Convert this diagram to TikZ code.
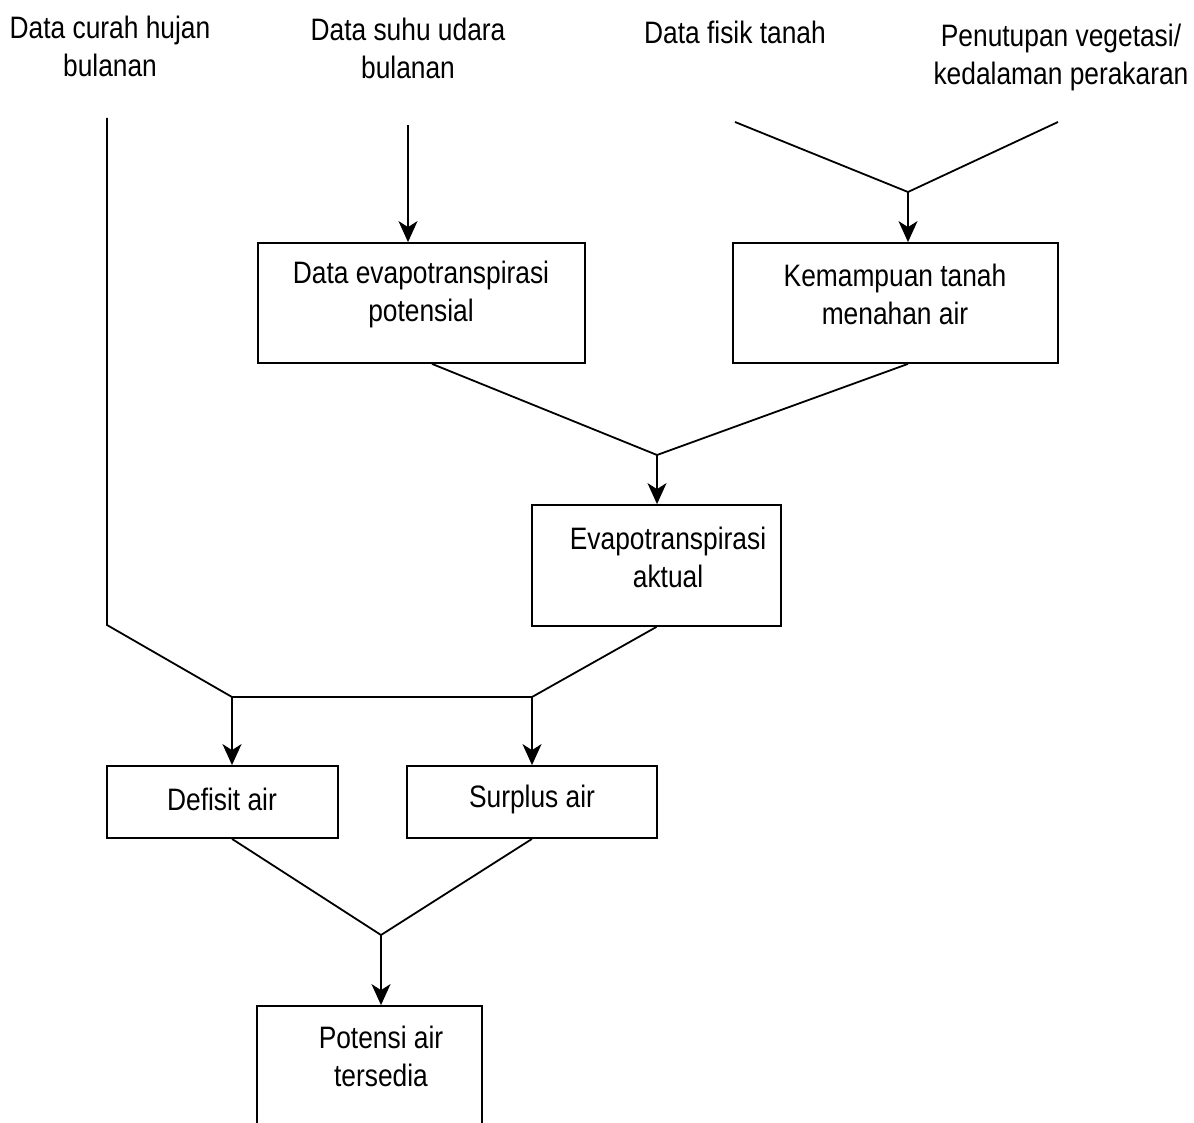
\documentclass[tikz,border=0pt]{standalone}
\usepackage{fontspec}
\setmainfont{Liberation Sans}[FakeStretch=0.85]
\usetikzlibrary{arrows.meta}
\begin{document}
\begin{tikzpicture}[x=1pt,y=-1pt,
  line width=1.8pt,
  txt/.style={font=\fontsize{31}{38}\selectfont, align=center, inner sep=0pt},
  box/.style={draw, line width=1.8pt, inner sep=0pt},
  arr/.style={-{Stealth[length=21pt,width=19pt,inset=6pt]}},
]
\clip (0,0) rectangle (1194,1123);
\fill[white] (0,0) rectangle (1194,1123);

% top labels
\node[txt] (l1) at (110,46) {Data curah hujan\\bulanan};
\node[txt] (l2) at (408,48) {Data suhu udara\\bulanan};
\node[txt] (l3) at (735,32) {Data fisik tanah};
\node[txt] (l4) at (1061,57) {Penutupan vegetasi/\\kedalaman perakaran};

% boxes
\node[box, minimum width=327pt, minimum height=120pt] (b1) at (421.5,303) {};
\node[box, minimum width=325pt, minimum height=120pt] (b2) at (895.5,303) {};
\node[box, minimum width=249pt, minimum height=121pt] (b3) at (656.5,565.5) {};
\node[box, minimum width=231pt, minimum height=72pt] (b4) at (222.5,802) {};
\node[box, minimum width=250pt, minimum height=72pt] (b5) at (532,802) {};
\node[box, minimum width=225pt, minimum height=150pt] (b6) at (369.5,1081) {};

% box texts
\node[txt] (t1) at (421,294) {Data evapotranspirasi\\potensial};
\node[txt] (t2) at (895,294) {Kemampuan tanah\\menahan air};
\node[txt] (t3) at (668,557) {Evapotranspirasi\\aktual};
\node[txt] (t4) at (222,799) {Defisit air};
\node[txt] (t5) at (532,799) {Surplus air};
\node[txt] (t6) at (381,1056) {Potensi air\\tersedia};

% free ends and junctions
\coordinate (c1) at (107,118);
\coordinate (c2) at (408,125);
\coordinate (c3) at (735,122);
\coordinate (c4) at (1058,122);
\coordinate (j2) at (908,192);
\coordinate (j3) at (657,455);
\coordinate (c5) at (107,625);
\coordinate (j4) at (232,697);
\coordinate (j5) at (532,697);
\coordinate (j6) at (381,935);

% connectors
\draw[arr] (c2) -- (c2 |- b1.north);
\draw (c3) -- (j2) -- (c4);
\draw[arr] (j2) -- (j2 |- b2.north);
\draw ([xshift=10.5pt]b1.south) -- (j3) -- ([xshift=12.5pt]b2.south);
\draw[arr] (j3) -- (j3 |- b3.north);
\draw (c1) -- (c5) -- (j4) -- (j5);
\draw (b3.south) -- (j5);
\draw[arr] (j4) -- (j4 |- b4.north);
\draw[arr] (j5) -- (j5 |- b5.north);
\draw ([xshift=9.5pt]b4.south) -- (j6) -- (b5.south);
\draw[arr] (j6) -- (j6 |- b6.north);
\end{tikzpicture}
\end{document}
